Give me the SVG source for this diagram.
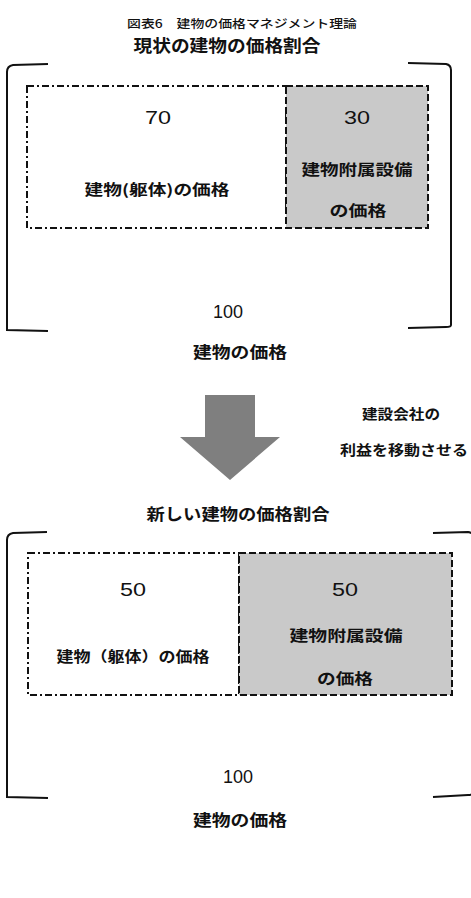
<svg xmlns="http://www.w3.org/2000/svg" width="471" height="898" viewBox="0 0 471 898">
<style>
.jp{font-family:"Noto Sans CJK JP","Noto Sans",sans-serif;fill:#111;text-anchor:middle}
.b{font-weight:bold}
.num{font-family:"Liberation Sans",Arial,sans-serif;fill:#111;text-anchor:middle;font-size:18px}
.brk{fill:none;stroke:#111;stroke-width:2}
.dd{fill:#fff;stroke:#111;stroke-width:2;stroke-dasharray:7 3 2 3}
.ds{fill:#c9c9c9;stroke:#111;stroke-width:2;stroke-dasharray:7 3}
</style>
<rect width="471" height="898" fill="#fff"/>
<text class="jp" x="242" y="28" font-size="11.5" font-weight="500" textLength="230" lengthAdjust="spacingAndGlyphs">図表6　建物の価格マネジメント理論</text>
<g id="section1">
<text class="jp b" x="227" y="52" font-size="17" textLength="187" lengthAdjust="spacingAndGlyphs">現状の建物の価格割合</text>
<g id="bracket1">
<path class="brk" d="M48,64 L13,65 Q7,66 7,72 L7,330 L48,331"/>
<path class="brk" d="M408,63 L446,64 Q451,65 451,70 L451,325 Q451,327 446,327 L408,328"/>
</g>
<g id="box1-body">
<rect class="dd" x="27" y="86" width="259" height="142"/>
<text class="num" x="158" y="124" textLength="26" lengthAdjust="spacingAndGlyphs">70</text>
<text class="jp b" x="157" y="195" font-size="14.5" textLength="145" lengthAdjust="spacingAndGlyphs">建物(躯体)の価格</text>
</g>
<g id="box1-equip">
<rect class="ds" x="286" y="86" width="142" height="142"/>
<text class="num" x="357" y="124" textLength="26" lengthAdjust="spacingAndGlyphs">30</text>
<text class="jp b" x="357" y="175" font-size="15" textLength="111" lengthAdjust="spacingAndGlyphs">建物附属設備</text>
<text class="jp b" x="358" y="216" font-size="15" textLength="57" lengthAdjust="spacingAndGlyphs">の価格</text>
</g>
<text class="num" x="228" y="318" font-size="15" textLength="30" lengthAdjust="spacingAndGlyphs">100</text>
<text class="jp b" x="240" y="358" font-size="16" textLength="94" lengthAdjust="spacingAndGlyphs">建物の価格</text>
</g>
<g id="connectors">
<polygon id="arrow" points="205,395 255,395 255,437 280,437 230,480 180,437 205,437" fill="#7f7f7f"/>
</g>
<g id="arrow-label">
<text class="jp b" x="401" y="419" font-size="14" textLength="78" lengthAdjust="spacingAndGlyphs">建設会社の</text>
<text class="jp b" x="404" y="455" font-size="14" textLength="128" lengthAdjust="spacingAndGlyphs">利益を移動させる</text>
</g>
<g id="section2">
<text class="jp b" x="238" y="520" font-size="16" textLength="183" lengthAdjust="spacingAndGlyphs">新しい建物の価格割合</text>
<g id="bracket2">
<path class="brk" d="M47,532 L13,533 Q7,534 7,540 L7,797 L48,798"/>
<path class="brk" d="M433,533 L468,532 Q474,533 474,538 L474,790 Q474,795 468,795 L433,797"/>
</g>
<g id="box2-body">
<rect class="dd" x="28" y="553" width="211" height="142"/>
<text class="num" x="133" y="596" textLength="26" lengthAdjust="spacingAndGlyphs">50</text>
<text class="jp b" x="133" y="662" font-size="14.5" textLength="153" lengthAdjust="spacingAndGlyphs">建物（躯体）の価格</text>
</g>
<g id="box2-equip">
<rect class="ds" x="239" y="553" width="213" height="142"/>
<text class="num" x="345" y="596" textLength="26" lengthAdjust="spacingAndGlyphs">50</text>
<text class="jp b" x="346" y="641" font-size="15" textLength="113" lengthAdjust="spacingAndGlyphs">建物附属設備</text>
<text class="jp b" x="345" y="684" font-size="15" textLength="56" lengthAdjust="spacingAndGlyphs">の価格</text>
</g>
<text class="num" x="238" y="783" font-size="15" textLength="30" lengthAdjust="spacingAndGlyphs">100</text>
<text class="jp b" x="240" y="826" font-size="16" textLength="94" lengthAdjust="spacingAndGlyphs">建物の価格</text>
</g>
</svg>
